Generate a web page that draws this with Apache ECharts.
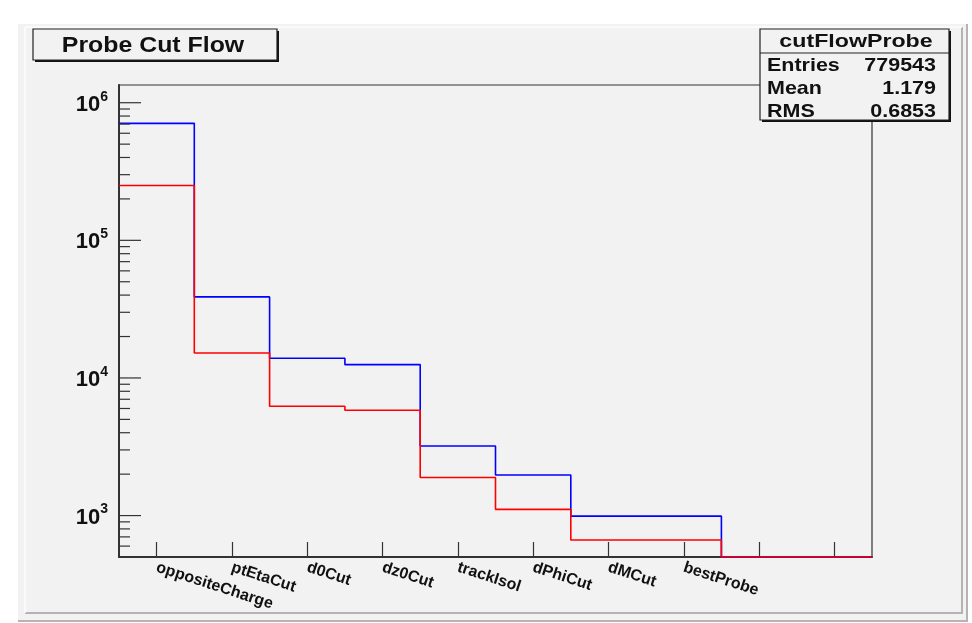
<!DOCTYPE html>
<html>
<head>
<meta charset="utf-8">
<script src="https://cdn.jsdelivr.net/npm/echarts@6/dist/echarts.min.js"></script>
<style>
html,body{margin:0;padding:0;background:#fff;}
#chart{width:972px;height:623px;}
</style>
</head>
<body>
<div id="chart"></div>
<script>
// ---- data ----
const categories = ['oppositeCharge', 'ptEtaCut', 'd0Cut', 'dz0Cut', 'trackIsol', 'dPhiCut', 'dMCut', 'bestProbe', '', ''];
const allProbes = [708000, 38800, 13900, 12500, 3200, 1970, 990, 990, 0, 0];
const passProbes = [250000, 15200, 6230, 5820, 1890, 1110, 664, 664, 0, 0];
const yMin = 500;
const yMax = 1.345e6;
const majorTicks = [1e3, 1e4, 1e5, 1e6];
const minorTicks = [600, 700, 800, 900,
  2e3, 3e3, 4e3, 5e3, 6e3, 7e3, 8e3, 9e3,
  2e4, 3e4, 4e4, 5e4, 6e4, 7e4, 8e4, 9e4,
  2e5, 3e5, 4e5, 5e5, 6e5, 7e5, 8e5, 9e5];
const statsTitle = 'cutFlowProbe';
const statsRows = [['Entries', '779543'], ['Mean', '1.179'], ['RMS', '0.6853']];
const chartTitle = 'Probe Cut Flow';

// build step histogram points (bin edges), empty bins drawn at axis floor
function stepData(vals) {
  const pts = vals.map((v, i) => [i, Math.max(v, yMin)]);
  pts.push([vals.length, Math.max(vals[vals.length - 1], yMin)]);
  return pts;
}

const FONT = 'Liberation Sans, Arial, Helvetica, sans-serif';
const chart = echarts.init(document.getElementById('chart'), null, {renderer: 'canvas'});

function tickSeries(vals, len) {
  return {
    type: 'custom',
    xAxisIndex: 1,
    yAxisIndex: 0,
    clip: false,
    silent: true,
    z: 5,
    data: vals.map(v => [0, v]),
    renderItem: function (params, api) {
      const p = api.coord([api.value(0), api.value(1)]);
      return {
        type: 'line',
        shape: {x1: p[0], y1: p[1], x2: p[0] + len, y2: p[1]},
        style: {stroke: '#333', lineWidth: 1.2}
      };
    }
  };
}

function scaledText(x, y, text, align, size, sx) {
  return {
    type: 'group', x: x, y: y, scaleX: sx, scaleY: 1, z: 101,
    children: [{
      type: 'text', z: 101,
      style: {text: text, x: 0, y: 0, align: align, verticalAlign: 'middle',
        font: 'bold ' + size + 'px ' + FONT, fill: '#111'}
    }]
  };
}

const graphics = [
  // outer pad
  {type: 'rect', z: -100, shape: {x: 18, y: 24, width: 950, height: 598}, style: {fill: '#f2f2f2', stroke: null}},
  {type: 'line', z: -99, shape: {x1: 18, y1: 621, x2: 968, y2: 621}, style: {stroke: '#b4b4b4', lineWidth: 2}},
  {type: 'line', z: -99, shape: {x1: 967, y1: 24, x2: 967, y2: 622}, style: {stroke: '#b4b4b4', lineWidth: 2}},
  {type: 'line', z: -99, shape: {x1: 25, y1: 613, x2: 963, y2: 613}, style: {stroke: '#b4b4b4', lineWidth: 2}},
  {type: 'line', z: -99, shape: {x1: 962, y1: 27, x2: 962, y2: 613}, style: {stroke: '#b4b4b4', lineWidth: 2}},
  {type: 'line', z: -99, shape: {x1: 25, y1: 27, x2: 25, y2: 613}, style: {stroke: '#fafafa', lineWidth: 2}},
  {type: 'line', z: -99, shape: {x1: 25, y1: 27, x2: 962, y2: 27}, style: {stroke: '#fafafa', lineWidth: 2}},
  // title box
  {type: 'rect', z: 99, shape: {x: 35, y: 31, width: 244, height: 31}, style: {fill: '#111'}},
  {type: 'rect', z: 100, shape: {x: 33, y: 29, width: 244, height: 31}, style: {fill: '#f2f2f2', stroke: '#222', lineWidth: 1.2}},
  scaledText(153, 46, chartTitle, 'center', 22, 1.13),
  // stats box
  {type: 'rect', z: 99, shape: {x: 762, y: 31, width: 189, height: 91}, style: {fill: '#111'}},
  {type: 'rect', z: 100, shape: {x: 760, y: 29, width: 189, height: 91}, style: {fill: '#f2f2f2', stroke: '#222', lineWidth: 1.2}},
  {type: 'line', z: 101, shape: {x1: 760, y1: 53, x2: 949, y2: 53}, style: {stroke: '#222', lineWidth: 1.2}},
  scaledText(856, 42, statsTitle, 'center', 19, 1.22)
];
statsRows.forEach((r, i) => {
  const y = 65.5 + i * 23.3;
  graphics.push(scaledText(767, y, r[0], 'left', 19, 1.13));
  graphics.push(scaledText(936, y, r[1], 'right', 19, 1.13));
});

const option = {
  animation: false,
  backgroundColor: '#ffffff',
  grid: {left: 119, top: 85, right: 100, bottom: 66, show: true, borderColor: '#333', borderWidth: 1.2, backgroundColor: 'transparent'},
  xAxis: [{
    type: 'category',
    data: categories,
    boundaryGap: true,
    axisLine: {show: true, lineStyle: {color: '#333', width: 2}},
    axisTick: {show: true, inside: true, length: 15, alignWithLabel: true, lineStyle: {color: '#333', width: 1.2}},
    axisLabel: {show: true, interval: 0, rotate: -18, margin: 10, fontSize: 16, fontWeight: 'bold', fontFamily: FONT, color: '#111'},
    splitLine: {show: false}
  }, {
    type: 'value', min: 0, max: categories.length, show: false
  }],
  yAxis: [{
    type: 'log',
    logBase: 10,
    min: yMin,
    max: yMax,
    axisLine: {show: true, lineStyle: {color: '#333', width: 2}},
    axisTick: {show: false},
    minorTick: {show: false},
    splitLine: {show: false},
    axisLabel: {
      show: true,
      margin: 11,
      formatter: function (v) {
        const e = Math.log10(v);
        if (Math.abs(e - Math.round(e)) < 1e-6) return '{b|10}{s|' + Math.round(e) + '}';
        return '';
      },
      rich: {
        b: {fontSize: 22, fontWeight: 'bold', fontFamily: FONT, color: '#111', lineHeight: 26, verticalAlign: 'bottom'},
        s: {fontSize: 14, fontWeight: 'bold', fontFamily: FONT, color: '#111', lineHeight: 26, verticalAlign: 'top'}
      }
    }
  }],
  graphic: graphics,
  series: [
    {
      name: 'all', type: 'line', xAxisIndex: 1, yAxisIndex: 0, step: 'end',
      data: stepData(allProbes), showSymbol: false, symbol: 'none', clip: false, z: 3,
      lineStyle: {color: '#0000ff', width: 1.6}
    },
    {
      name: 'pass', type: 'line', xAxisIndex: 1, yAxisIndex: 0, step: 'end',
      data: stepData(passProbes), showSymbol: false, symbol: 'none', clip: false, z: 4,
      lineStyle: {color: '#ff0000', width: 1.6}
    },
    tickSeries(majorTicks, 22),
    tickSeries(minorTicks, 11)
  ]
};
chart.setOption(option);
</script>
</body>
</html>
